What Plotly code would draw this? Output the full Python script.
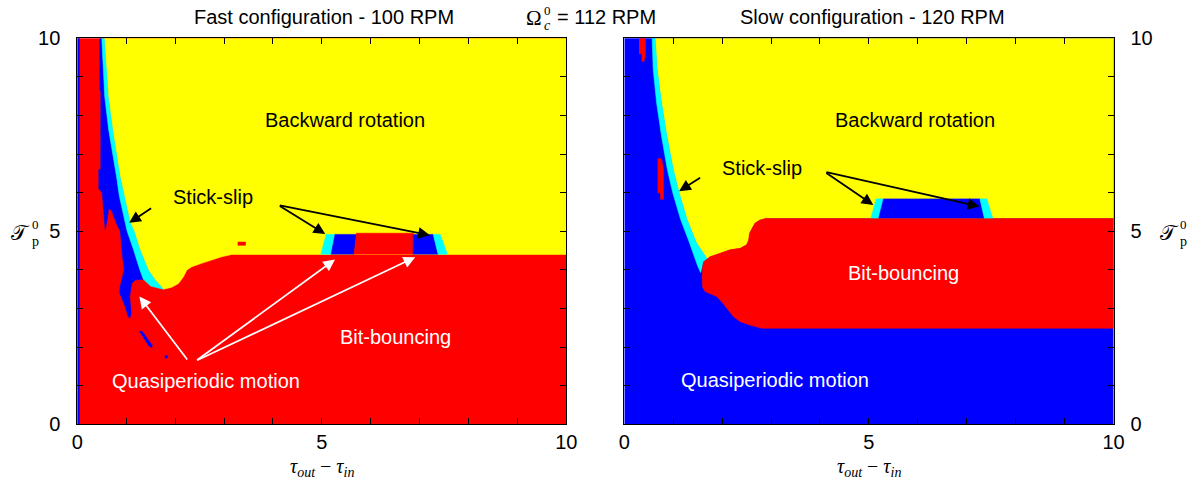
import plotly.graph_objects as go

# ---------------- colours of the regimes ----------------
YELLOW = "#FFFF00"   # backward rotation
RED = "#FF0000"      # bit-bouncing
BLUE = "#0000FF"     # quasiperiodic motion
CYAN = "#00FFFF"     # stick-slip

# ================= LEFT PANEL (fast configuration) =================
FULL_X = [0, 10, 10, 0]
FULL_Y = [0, 0, 10, 10]

# yellow / cyan boundary, from top down to the bottom of the "V"
L_OUTER_X = [0.55, 0.58, 0.63, 0.72, 0.78, 0.87, 0.96, 1.08, 1.16, 1.28, 1.45, 1.59, 1.76]
L_OUTER_Y = [10.0, 9.37, 8.50, 7.64, 7.12, 6.43, 5.91, 5.22, 5.00, 4.52, 4.00, 3.74, 3.50]
# yellow / red boundary, from the bottom of the "V" to the right edge
L_RIDGE_X = [1.93, 2.07, 2.17, 2.24, 2.34, 2.54, 2.75, 2.95, 3.16, 10.0]
L_RIDGE_Y = [3.55, 3.65, 3.82, 4.00, 4.08, 4.17, 4.26, 4.34, 4.40, 4.40]
# inner edge of the cyan band (bottom to top)
L_CIN_X = [1.50, 1.35, 1.28, 1.15, 1.02, 0.98, 0.86, 0.80, 0.70, 0.64, 0.56, 0.52, 0.50]
L_CIN_Y = [3.58, 3.76, 4.00, 4.52, 5.00, 5.22, 5.91, 6.43, 7.12, 7.64, 8.50, 9.37, 10.0]
# red / blue boundary of the quasiperiodic strip (top -> bottom tip -> red bump)
L_BLUE_X = [0.46, 0.46, 0.48, 0.48, 0.44, 0.44, 0.51, 0.54, 0.57, 0.61, 0.64, 0.70, 0.80,
            0.88, 0.91, 0.96, 0.90, 0.87, 0.87, 0.98, 1.04, 1.07, 1.10, 1.07, 1.11, 1.18, 1.35]
L_BLUE_Y = [10.0, 8.70, 8.60, 6.60, 6.60, 6.10, 6.00, 5.50, 5.05, 5.30, 5.59, 5.55, 5.20,
            5.00, 4.52, 4.00, 3.70, 3.53, 3.39, 3.05, 2.79, 2.75, 2.87, 3.31, 3.65, 3.74, 3.76]
# thin blue column along tau = 0
L_EDGE_X = [0, 0.04, 0.04, 0]
L_EDGE_Y = [0, 0, 10, 10]
# isolated blue fragments
L_FRAG1_X = [1.26, 1.33, 1.53, 1.52, 1.45]
L_FRAG1_Y = [2.42, 2.40, 2.05, 1.98, 2.05]
L_FRAG2_X = [1.79, 1.84, 1.84, 1.79]
L_FRAG2_Y = [1.72, 1.72, 1.78, 1.78]
# stick-slip / quasiperiodic islands on the plateau
L_ISL_C1_X = [4.98, 5.09, 5.27, 5.19]
L_ISL_C1_Y = [4.40, 4.92, 4.92, 4.40]
L_ISL_B1_X = [5.19, 5.27, 5.71, 5.66]
L_ISL_B1_Y = [4.40, 4.92, 4.92, 4.40]
L_ISL_R_X = [5.66, 5.71, 6.87, 6.87]
L_ISL_R_Y = [4.40, 4.95, 4.95, 4.40]
L_ISL_B2_X = [6.87, 6.87, 7.28, 7.38]
L_ISL_B2_Y = [4.40, 4.92, 4.92, 4.40]
L_ISL_C2_X = [7.38, 7.28, 7.42, 7.57]
L_ISL_C2_Y = [4.40, 4.92, 4.92, 4.40]
L_DASH_X = [3.28, 3.44, 3.44, 3.28]
L_DASH_Y = [4.64, 4.64, 4.72, 4.72]

# ================= RIGHT PANEL (slow configuration) =================
R_OUTER_X = [0.63, 0.65, 0.67, 0.76, 0.87, 1.00, 1.12, 1.28, 1.47, 1.70]
R_OUTER_Y = [10.0, 9.54, 9.20, 8.33, 7.47, 6.60, 6.00, 5.31, 4.71, 4.27]
R_CIN_X = [1.62, 1.56, 1.50, 1.33, 1.15, 0.99, 0.88, 0.76, 0.66, 0.59, 0.58, 0.57]
R_CIN_Y = [4.21, 3.93, 4.10, 4.71, 5.31, 6.00, 6.60, 7.47, 8.33, 9.20, 9.54, 10.0]
# left outline of the bit-bouncing region, from its top (5.34) down to its bottom (2.49)
R_RED_X = [2.91, 2.77, 2.67, 2.61, 2.56, 2.54, 2.50, 2.37, 2.16, 1.96, 1.75, 1.62, 1.60,
           1.59, 1.60, 1.65, 1.89, 2.02, 2.13, 2.23, 2.37, 2.57, 2.81]
R_RED_Y = [5.34, 5.29, 5.21, 5.08, 4.95, 4.77, 4.65, 4.56, 4.52, 4.43, 4.34, 4.21, 4.08,
           3.82, 3.56, 3.44, 3.31, 3.13, 2.96, 2.79, 2.66, 2.57, 2.49]
R_RED_TOP = 5.34
R_RED_BOTTOM = 2.49
R_BIT1_X = [0.30, 0.43, 0.43, 0.40, 0.36, 0.36, 0.30]
R_BIT1_Y = [10.0, 10.0, 9.55, 9.40, 9.40, 9.60, 9.60]
R_BIT2_X = [0.68, 0.76, 0.80, 0.80, 0.74, 0.74, 0.68]
R_BIT2_Y = [6.88, 6.88, 6.60, 5.83, 5.83, 6.00, 6.00]
R_ISL_C1_X = [5.04, 5.15, 5.30, 5.20]
R_ISL_C1_Y = [5.34, 5.84, 5.84, 5.34]
R_ISL_B_X = [5.20, 5.30, 7.27, 7.36]
R_ISL_B_Y = [5.34, 5.84, 5.84, 5.34]
R_ISL_C2_X = [7.36, 7.27, 7.41, 7.53]
R_ISL_C2_Y = [5.34, 5.84, 5.84, 5.34]

FONT = "Liberation Sans, Arial, Helvetica, sans-serif"
SERIF = "Liberation Serif, DejaVu Serif, serif"

fig = go.Figure()


def poly(xs, ys, color, panel):
    xa, ya = ("x", "y") if panel == 0 else ("x2", "y2")
    fig.add_trace(go.Scatter(x=list(xs), y=list(ys), fill="toself", fillcolor=color,
                             mode="lines", line=dict(color=color, width=0.6),
                             hoverinfo="skip", showlegend=False, xaxis=xa, yaxis=ya))


# ----- left panel -----
poly(FULL_X, FULL_Y, RED, 0)
poly(L_OUTER_X + L_RIDGE_X + [10, L_OUTER_X[0]],
     L_OUTER_Y + L_RIDGE_Y + [10, 10], YELLOW, 0)
poly(L_BLUE_X + L_CIN_X[1:], L_BLUE_Y + L_CIN_Y[1:], BLUE, 0)
poly(L_OUTER_X + L_CIN_X, L_OUTER_Y + L_CIN_Y, CYAN, 0)
poly(L_EDGE_X, L_EDGE_Y, BLUE, 0)
poly(L_FRAG1_X, L_FRAG1_Y, BLUE, 0)
poly(L_FRAG2_X, L_FRAG2_Y, BLUE, 0)
poly(L_ISL_C1_X, L_ISL_C1_Y, CYAN, 0)
poly(L_ISL_B1_X, L_ISL_B1_Y, BLUE, 0)
poly(L_ISL_R_X, L_ISL_R_Y, RED, 0)
poly(L_ISL_B2_X, L_ISL_B2_Y, BLUE, 0)
poly(L_ISL_C2_X, L_ISL_C2_Y, CYAN, 0)
poly(L_DASH_X, L_DASH_Y, RED, 0)

# ----- right panel -----
poly(FULL_X, FULL_Y, BLUE, 1)
rev_red_x = R_RED_X[::-1]
rev_red_y = R_RED_Y[::-1]
up_x = [x for x, y in zip(rev_red_x, rev_red_y) if y >= 4.30]
up_y = [y for y in rev_red_y if y >= 4.30]
poly(R_OUTER_X + up_x + [10, 10, R_OUTER_X[0]],
     R_OUTER_Y + up_y + [R_RED_TOP, 10, 10], YELLOW, 1)
poly(R_OUTER_X + R_CIN_X, R_OUTER_Y + R_CIN_Y, CYAN, 1)
poly(R_RED_X + [10, 10], R_RED_Y + [R_RED_BOTTOM, R_RED_TOP], RED, 1)
poly(R_BIT1_X, R_BIT1_Y, RED, 1)
poly(R_BIT2_X, R_BIT2_Y, RED, 1)
poly(R_ISL_C1_X, R_ISL_C1_Y, CYAN, 1)
poly(R_ISL_B_X, R_ISL_B_Y, BLUE, 1)
poly(R_ISL_C2_X, R_ISL_C2_Y, CYAN, 1)

# ---------------- axes ----------------
XD1 = [0.0645, 0.4723]
XD2 = [0.5207, 0.9287]
YD = [0.1197, 0.9205]


def xax(domain, anchor):
    return dict(domain=domain, anchor=anchor, range=[0, 10], tickmode="linear", tick0=0, dtick=5,
                ticks="inside", ticklen=6, tickcolor="black", showline=True, linecolor="black",
                linewidth=1, mirror="ticks", showgrid=False, zeroline=False, fixedrange=True,
                automargin=False, ticklabelstandoff=0,
                tickfont=dict(family=FONT, size=20, color="black"),
                minor=dict(dtick=1, tick0=0, ticks="inside", ticklen=6, tickcolor="black", showgrid=False))


def yax(anchor, side):
    return dict(domain=YD, anchor=anchor, side=side, range=[0, 10], tickmode="linear", tick0=0, dtick=5,
                ticks="inside", ticklen=6, tickcolor="black", showline=True, linecolor="black",
                linewidth=1, mirror="ticks", showgrid=False, zeroline=False, fixedrange=True,
                automargin=False, ticklabelstandoff=12,
                tickfont=dict(family=FONT, size=20, color="black"),
                minor=dict(dtick=1, tick0=0, ticks="inside", ticklen=6, tickcolor="black", showgrid=False))


ann = []


def text(x, y, s, panel, color="black", size=20):
    xr, yr = ("x", "y") if panel == 0 else ("x2", "y2")
    ann.append(dict(x=x, y=y, xref=xr, yref=yr, text=s, showarrow=False,
                    xanchor="center", yanchor="middle",
                    font=dict(family=FONT, size=size, color=color)))


def arrow(x0, y0, x1, y1, panel, color="black"):
    xr, yr = ("x", "y") if panel == 0 else ("x2", "y2")
    ann.append(dict(x=x1, y=y1, ax=x0, ay=y0, xref=xr, yref=yr, axref=xr, ayref=yr, text="",
                    showarrow=True, arrowhead=2, arrowsize=1.3, arrowwidth=1.8, arrowcolor=color,
                    standoff=0, startstandoff=0))


def paper_text(xpx, ypx, s, family=FONT, size=20, anchor="center"):
    ann.append(dict(x=xpx / 1199, y=1 - ypx / 482, xref="paper", yref="paper", text=s,
                    showarrow=False, xanchor=anchor, yanchor="middle",
                    font=dict(family=family, size=size, color="black")))


# left panel labels
text(5.47, 7.88, "Backward rotation", 0)
text(2.78, 5.89, "Stick-slip", 0)
text(6.50, 2.26, "Bit-bouncing", 0, "white")
text(2.63, 1.13, "Quasiperiodic motion", 0, "white")
arrow(1.54, 5.62, 1.06, 5.22, 0)
arrow(4.11, 5.68, 5.07, 4.93, 0)
arrow(4.11, 5.68, 7.21, 4.90, 0)
arrow(2.27, 1.64, 1.27, 3.31, 0, "white")
arrow(2.42, 1.64, 5.27, 4.27, 0, "white")
arrow(2.42, 1.64, 6.91, 4.33, 0, "white")

# right panel labels
text(5.94, 7.88, "Backward rotation", 1)
text(2.82, 6.64, "Stick-slip", 1)
text(5.71, 3.92, "Bit-bouncing", 1, "white")
text(3.08, 1.14, "Quasiperiodic motion", 1, "white")
arrow(1.58, 6.41, 1.12, 6.04, 1)
arrow(4.10, 6.54, 5.09, 5.68, 1)
arrow(4.10, 6.54, 7.26, 5.64, 1)

# panel titles
paper_text(324, 17, "Fast configuration - 100 RPM")
paper_text(872, 17, "Slow configuration - 120 RPM")
# Omega_c^0 = 112 RPM (sub- and superscript stacked)
paper_text(534, 18, "Ω", SERIF, 21)
paper_text(547, 10, "0", SERIF, 13)
paper_text(547, 25, "<i>c</i>", SERIF, 14)
paper_text(555, 17, "= 112 RPM", FONT, 20, "left")
# y-axis titles (T_p^0, stacked sub/superscript)
for tx in [21, 1169]:
    paper_text(tx, 233, "𝒯", SERIF, 21)
    paper_text(tx + 14, 224, "0", SERIF, 13)
    paper_text(tx + 14, 241, "p", SERIF, 14)
# x-axis titles
xtitle = "<i>τ</i><sub><i>out</i></sub> − <i>τ</i><sub><i>in</i></sub>"
paper_text(322, 467, xtitle, SERIF)
paper_text(869, 467, xtitle, SERIF)

fig.update_layout(
    width=1199, height=482, margin=dict(l=0, r=0, t=0, b=0, autoexpand=False),
    paper_bgcolor="white", plot_bgcolor="white", showlegend=False,
    xaxis=xax(XD1, "y"), yaxis=yax("x", "left"),
    xaxis2=xax(XD2, "y2"), yaxis2=yax("x2", "right"),
    annotations=ann,
)

fig.write_html("out.html")
